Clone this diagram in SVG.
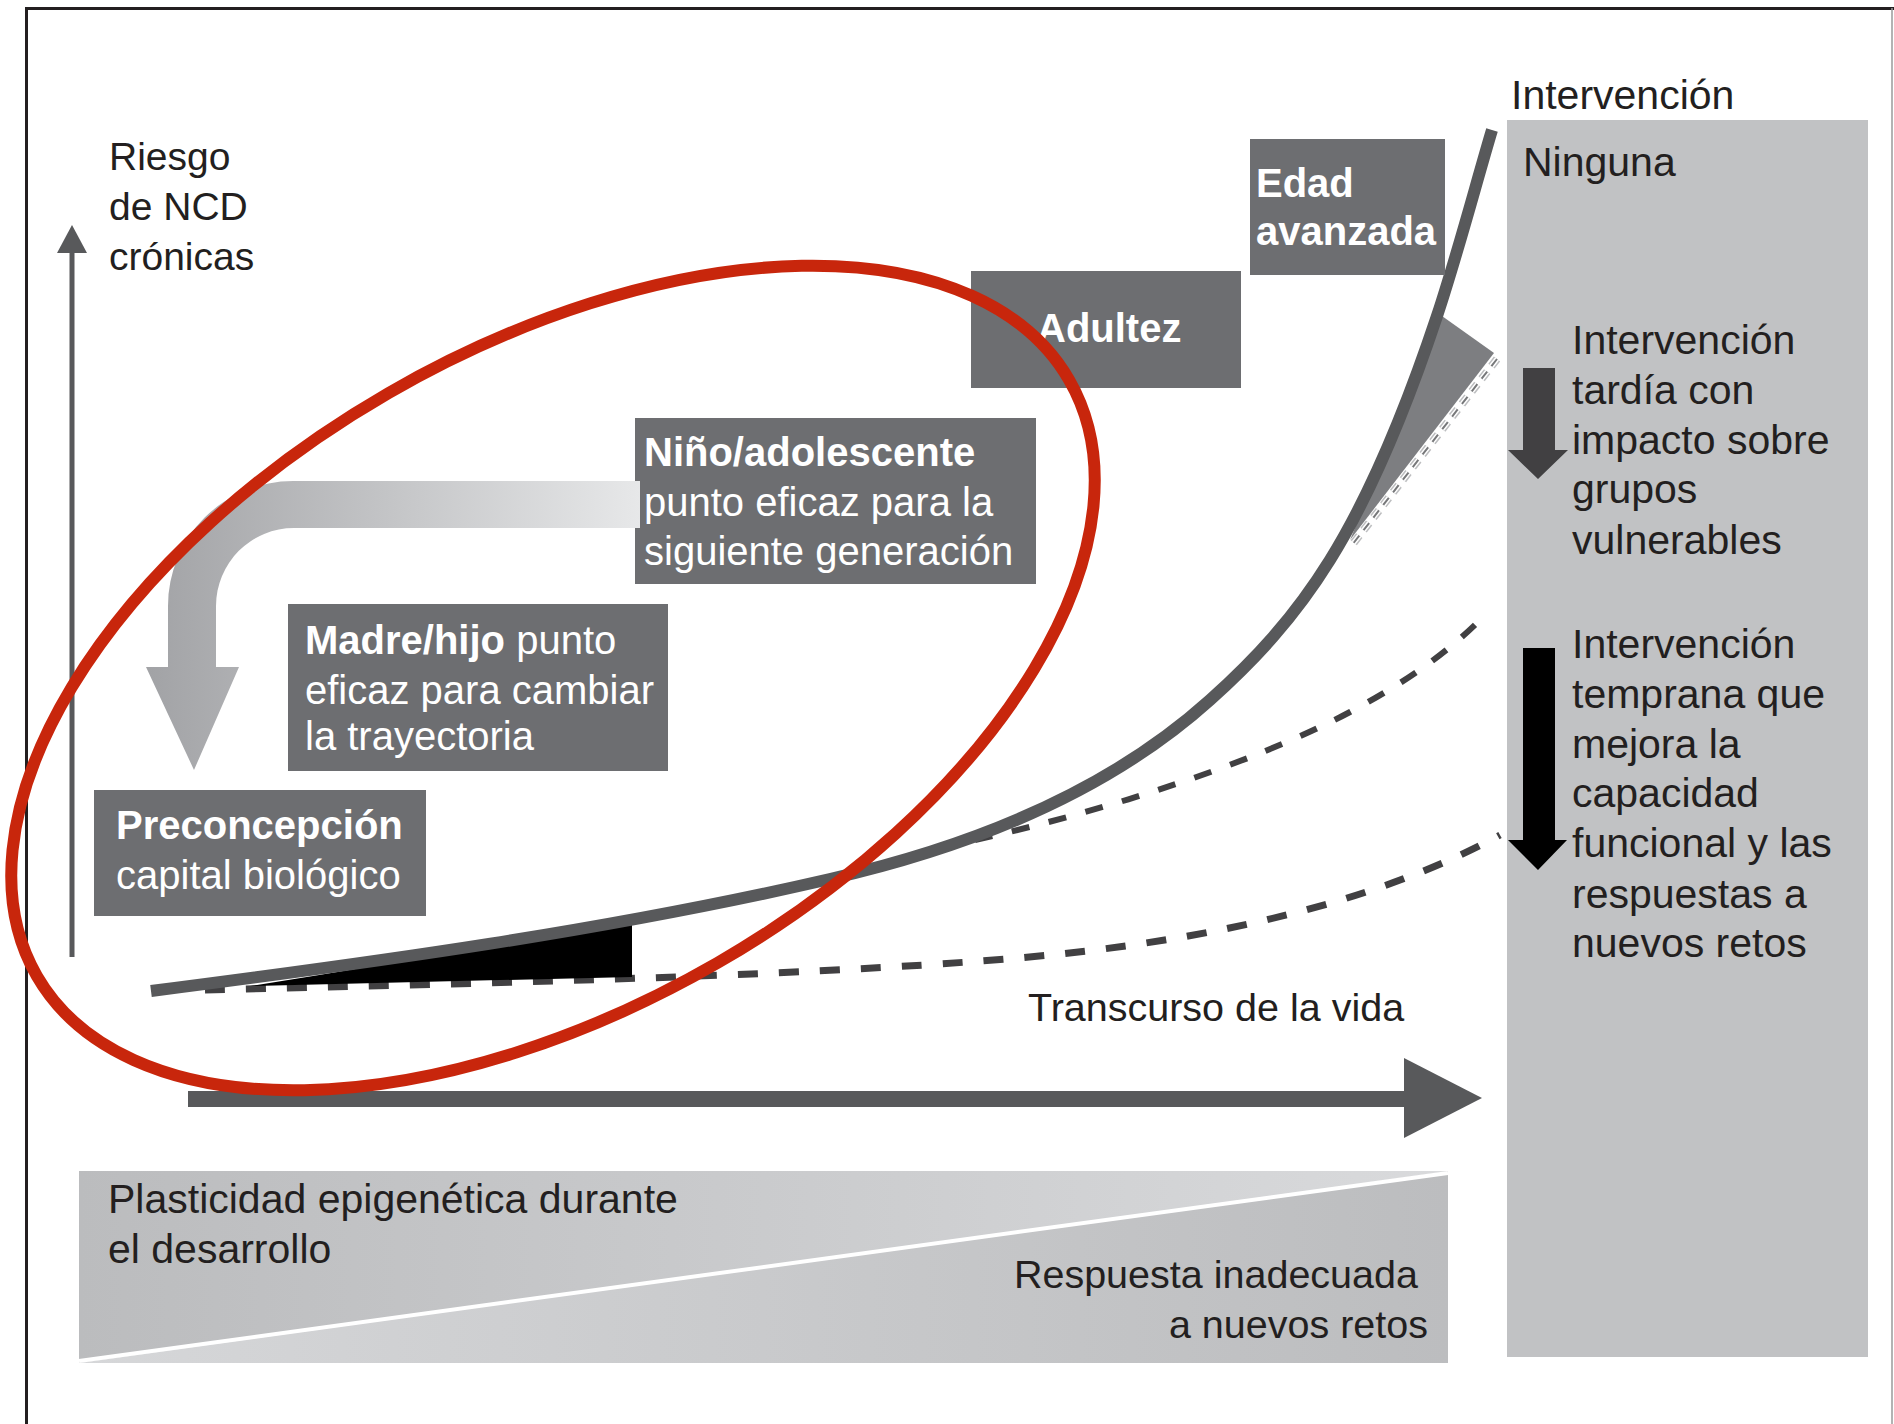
<svg xmlns="http://www.w3.org/2000/svg" width="1894" height="1424" viewBox="0 0 1894 1424">
<style>
.t{font-family:"Liberation Sans",Arial,sans-serif;fill:#231f20}
.w{font-family:"Liberation Sans",Arial,sans-serif;fill:#ffffff;font-size:40px}
.b{font-weight:bold}
.box{fill:#6d6e71}
.dash1{fill:none;stroke:#414042;stroke-width:7;stroke-dasharray:20 21}
.dash2{fill:none;stroke:#414042;stroke-width:6;stroke-dasharray:18 20}
</style>
<defs>
<linearGradient id="gArrow" gradientUnits="userSpaceOnUse" x1="150" y1="0" x2="640" y2="0">
<stop offset="0" stop-color="#a2a3a6"/>
<stop offset="1" stop-color="#e7e8e9"/>
</linearGradient>
<linearGradient id="gUp" gradientUnits="userSpaceOnUse" x1="79" y1="0" x2="1448" y2="0">
<stop offset="0" stop-color="#bbbcbe"/>
<stop offset="1" stop-color="#d9dadc"/>
</linearGradient>
<linearGradient id="gLow" gradientUnits="userSpaceOnUse" x1="79" y1="0" x2="1448" y2="0">
<stop offset="0" stop-color="#d6d7d9"/>
<stop offset="1" stop-color="#bcbdbf"/>
</linearGradient>
</defs>
<rect width="1894" height="1424" fill="#ffffff"/>
<g id="frame">
<path d="M26.5,1424 V8.5 H1894" fill="none" stroke="#231f20" stroke-width="3"/>
<path d="M1892,8 V1424" fill="none" stroke="#9a9a9a" stroke-width="1.5"/>
</g>
<g id="panel-intervencion">
<rect x="1507" y="120" width="361" height="1237" fill="#c1c2c4"/>
<text class="t" x="1511" y="109" font-size="41">Intervención</text>
<text class="t" x="1523" y="176" font-size="41">Ninguna</text>
<g id="late-intervention">
<path d="M1523,368 H1555 V450 H1568 L1538,479 L1508,450 H1523 Z" fill="#414042"/>
<text class="t" font-size="41"><tspan x="1572" y="354">Intervención</tspan><tspan x="1572" y="404">tardía con</tspan><tspan x="1572" y="454">impacto sobre</tspan><tspan x="1572" y="503">grupos</tspan><tspan x="1572" y="554">vulnerables</tspan></text>
</g>
<g id="early-intervention">
<path d="M1523,648 H1555 V840 H1567 L1538,870 L1508,840 H1523 Z" fill="#000000"/>
<text class="t" font-size="41"><tspan x="1572" y="658">Intervención</tspan><tspan x="1572" y="708">temprana que</tspan><tspan x="1572" y="758">mejora la</tspan><tspan x="1572" y="807">capacidad</tspan><tspan x="1572" y="857">funcional y las</tspan><tspan x="1572" y="908">respuestas a</tspan><tspan x="1572" y="957">nuevos retos</tspan></text>
</g>
</g>
<g id="panel-plasticidad">
<polygon points="79,1171 1448,1171 79,1363" fill="url(#gUp)"/>
<polygon points="1448,1171 1448,1363 79,1363" fill="url(#gLow)"/>
<line x1="79" y1="1361" x2="1448" y2="1173" stroke="#ffffff" stroke-width="4"/>
<text class="t" font-size="41"><tspan x="108" y="1213">Plasticidad epigenética durante</tspan><tspan x="108" y="1263">el desarrollo</tspan></text>
<text class="t" font-size="39.5" text-anchor="end"><tspan x="1418" y="1288">Respuesta inadecuada</tspan><tspan x="1428" y="1338">a nuevos retos</tspan></text>
</g>
<g id="axis-y">
<rect x="69.5" y="250" width="5" height="707" fill="#58595b"/>
<polygon points="72,225 87,253 57,253" fill="#58595b"/>
<text class="t" font-size="39"><tspan x="109" y="170">Riesgo</tspan><tspan x="109" y="220">de NCD</tspan><tspan x="109" y="270">crónicas</tspan></text>
</g>
<g id="axis-x">
<rect x="188" y="1091" width="1218" height="16" fill="#58595b"/>
<polygon points="1404,1058 1482,1098 1404,1138" fill="#58595b"/>
<text class="t" x="1028" y="1021" font-size="39.5">Transcurso de la vida</text>
</g>
<g id="box-nino">
<rect class="box" x="635" y="418" width="401" height="166"/>
<text class="w"><tspan class="b" x="644" y="466">Niño/adolescente</tspan><tspan x="644" y="516">punto eficaz para la</tspan><tspan x="644" y="565">siguiente generación</tspan></text>
</g>
<g id="connectors">
<path id="generation-arrow" d="M640,481 H293 A125,125 0 0 0 168,606 V667 H146 L194,770 L239,667 H216 V606 A78,78 0 0 1 294,528 H640 Z" fill="url(#gArrow)"/>
<path class="dash1" d="M205,990 C500,983 850,975 1050,955 C1250,935 1400,890 1500,835"/>
<path class="dash2" d="M975,840 C1100,812 1250,765 1350,712 C1410,680 1450,650 1480,620"/>
<polygon points="1442,316 1494,353 1350,540" fill="#7d7e81"/>
<line x1="1497" y1="359" x2="1352" y2="545" stroke="#bdbec0" stroke-width="8" stroke-dasharray="9 7"/>
<line x1="1497" y1="359" x2="1352" y2="545" stroke="#ffffff" stroke-width="5" stroke-dasharray="9 7"/>
<line x1="1497" y1="359" x2="1352" y2="545" stroke="#77787a" stroke-width="2" stroke-dasharray="9 7"/>
<path d="M250,986 Q450,955 632,918 L632,977 Z" fill="#000000"/>
<path id="main-curve" d="M151,991 C377,962 604,931 830,879 C957,850 1100,799 1210,700 C1300.5,618.5 1363.5,536.5 1437,316 C1457,256 1477,180 1492,130" fill="none" stroke="#58595b" stroke-width="12"/>
</g>
<g id="box-edad">
<rect class="box" x="1250" y="139" width="195" height="136"/>
<text class="w b"><tspan x="1256" y="197">Edad</tspan><tspan x="1256" y="245">avanzada</tspan></text>
</g>
<g id="box-adultez">
<rect class="box" x="971" y="271" width="270" height="117"/>
<text class="w b" x="1037" y="342">Adultez</text>
</g>
<g id="box-madre">
<rect class="box" x="288" y="604" width="380" height="167"/>
<text class="w"><tspan x="305" y="654"><tspan class="b">Madre/hijo</tspan> punto</tspan><tspan x="305" y="704">eficaz para cambiar</tspan><tspan x="305" y="750">la trayectoria</tspan></text>
</g>
<g id="box-preconcepcion">
<rect class="box" x="94" y="790" width="332" height="126"/>
<text class="w"><tspan class="b" x="116" y="839">Preconcepción</tspan><tspan x="116" y="889">capital biológico</tspan></text>
</g>
<g id="highlight">
<ellipse cx="553" cy="678" rx="596" ry="329" transform="rotate(-30 553 678)" fill="none" stroke="#c8260c" stroke-width="12"/>
</g>
</svg>
